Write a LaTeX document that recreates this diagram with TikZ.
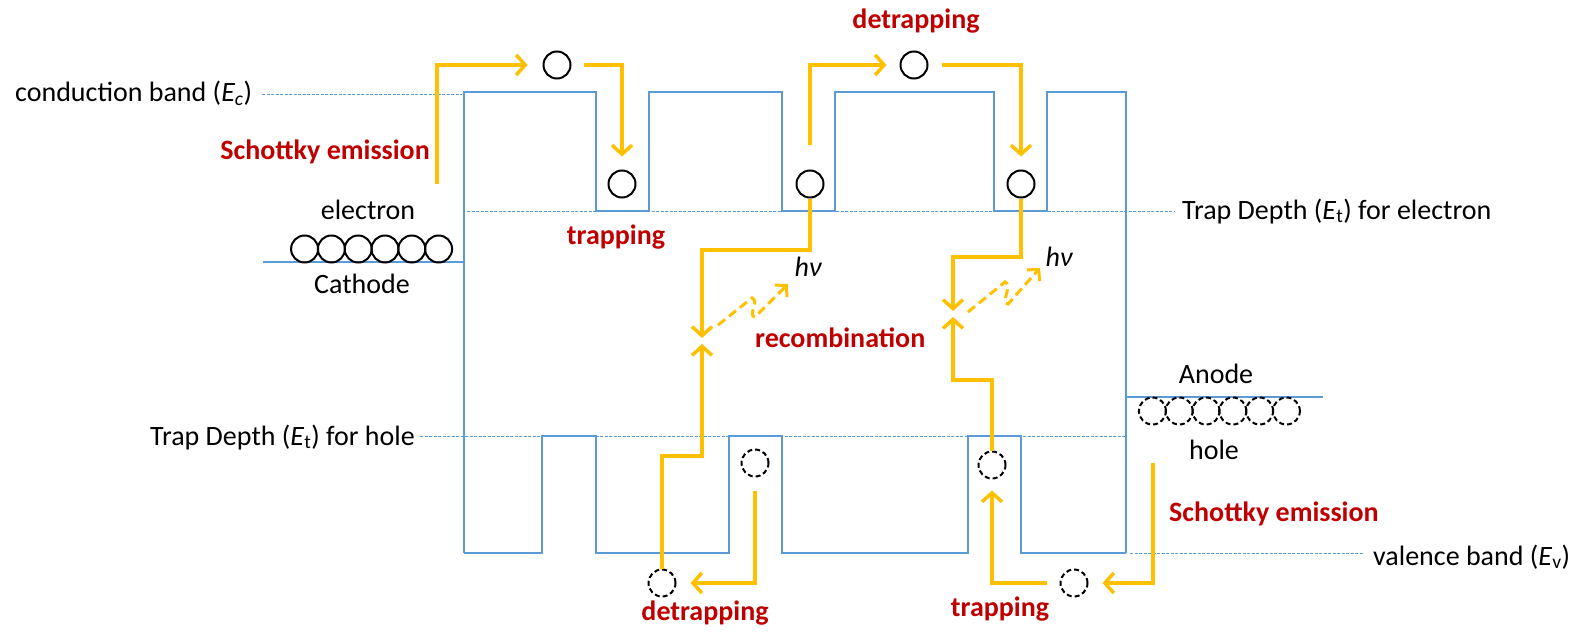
\documentclass[tikz,border=0pt]{standalone}
\usepackage{fontspec}
\setmainfont{Carlito}
\usetikzlibrary{arrows.meta,calc}
\definecolor{bandblue}{HTML}{5B9BD5}
\definecolor{flow}{HTML}{FFC000}
\definecolor{procred}{HTML}{C00000}

\begin{document}
\begin{tikzpicture}[x=1pt,y=-1pt,
  band/.style={draw=bandblue,line width=2pt},
  level/.style={draw=bandblue,line width=0.8pt,dash pattern=on 3pt off 1.5pt},
  flowline/.style={draw=flow,line width=3.5pt,-{Straight Barb[length=9pt,width=20pt]}},
  photon/.style={draw=flow,line width=3pt,dash pattern=on 9pt off 5pt,-{Straight Barb[length=8pt,width=17pt]}},
  ecirc/.style={circle,draw=black,line width=2pt,minimum size=27pt,inner sep=0pt},
  hcirc/.style={ecirc,dash pattern=on 5pt off 3pt},
  lbl/.style={inner sep=0pt,font=\fontsize{28}{32}\selectfont},
  proc/.style={inner sep=0pt,text=procred,font=\fontsize{28}{32}\selectfont\bfseries}
]
\useasboundingbox (0,0) rectangle (1572,634);

% energy levels (thin dashed)
\draw[level] (262,94) -- (462,94);
\draw[level] (467,211) -- (1175,211);
\draw[level] (420,436) -- (1126,436);
\draw[level] (1130,553) -- (1363,553);

% conduction band with electron traps
\draw[band] (464,553) -- (464,92) -- (596,92) -- (596,211) -- (649,211) -- (649,92)
  -- (782,92) -- (782,211) -- (835,211) -- (835,92) -- (994,92) -- (994,211)
  -- (1047,211) -- (1047,92) -- (1126,92) -- (1126,553);
% valence band with hole traps
\draw[band] (464,553) -- (542,553) -- (542,436) -- (596,436) -- (596,553) -- (729,553)
  -- (729,436) -- (782,436) -- (782,553) -- (968,553) -- (968,436) -- (1021,436)
  -- (1021,553) -- (1126,553);
% electrodes
\draw[band] (263,262) -- (464,262);
\draw[band] (1126,397) -- (1323,397);

% electrons at the cathode and holes at the anode
\foreach \i in {0,...,5} {
  \node[ecirc] (e\i) at ({304.6+26.8*\i},249) {};
  \node[hcirc] (a\i) at ({1152.4+26.8*\i},411) {};
}

% carriers
\node[ecirc] (c1) at (557,65) {};
\node[ecirc] (c2) at (914,65) {};
\node[ecirc] (t1) at (622,184) {};
\node[ecirc] (t2) at (810,184) {};
\node[ecirc] (t3) at (1021,184) {};
\node[hcirc] (ht1) at (755,463) {};
\node[hcirc] (ht2) at (992,465) {};
\node[hcirc] (h1) at (662,583) {};
\node[hcirc] (h2) at (1074,583) {};

% free ends and meeting points
\coordinate (sL) at (437,184);
\coordinate (sR) at (1153,463);
\coordinate (rL) at (702,341);
\coordinate (rR) at (953,314);

% electron transport
\draw[flowline,shorten >=15pt] (sL) |- (c1.west);
\draw[flowline,shorten <=12pt,shorten >=13pt] (c1.east) -| (t1.north);
\draw[flowline,shorten <=25pt,shorten >=13pt] (t2.north) |- (c2.west);
\draw[flowline,shorten <=13pt,shorten >=13pt] (c2.east) -| (t3.north);
\draw[flowline,shorten >=3pt] (t2.south) |- (702,250) -- (rL);
\draw[flowline,shorten >=3pt] (t3.south) |- (953,257) -- (rR);

% hole transport
\draw[flowline,shorten >=14pt] (sR) |- (h2.east);
\draw[flowline,shorten <=13pt,shorten >=11pt] (h2.west) -| (ht2.south);
\draw[flowline,shorten <=13pt,shorten >=14pt] (ht1.south) |- (h1.east);
\draw[flowline,shorten >=3pt] (h1.north) |- (702,456) -- (rL);
\draw[flowline,shorten >=3pt] (ht2.north) |- (953,380) -- (rR);

% emitted photons
\draw[photon] (718,325) -- (752,298) .. controls (760,301) and (747,316) .. (755,317) -- (788,284);
\draw[photon] (968,312) -- (1005,282) .. controls (1013,285) and (1000,303) .. (1008,304) -- (1040,268);

% labels
\node[lbl,anchor=base west] (lEc) at (15,102) {conduction band (\textit{E\textsubscript{c}})};
\node[lbl,anchor=base west] (lEte) at (1182,219) {Trap Depth (\textit{E}\textsubscript{t}) for electron};
\node[lbl,anchor=base west] (lEth) at (150,445) {Trap Depth (\textit{E}\textsubscript{t}) for hole};
\node[lbl,anchor=base west] (lEv) at (1373,565) {valence band (\textit{E}\textsubscript{v})};
\node[lbl,anchor=base] (lel) at (368,219) {electron};
\node[lbl,anchor=base] (lca) at (362,293) {Cathode};
\node[lbl,anchor=base] (lan) at (1216,383) {Anode};
\node[lbl,anchor=base] (lho) at (1214,459) {hole};
\node[lbl,anchor=base] (hvL) at (808,276) {\itshape hν};
\node[lbl,anchor=base] (hvR) at (1059,266) {\itshape hν};

\node[proc,anchor=base east] (pSL) at (430,159) {Schottky emission};
\node[proc,anchor=base west] (pSR) at (1169,521) {Schottky emission};
\node[proc,anchor=base] (pT1) at (616,244) {trapping};
\node[proc,anchor=base] (pD1) at (916,29) {detrapping};
\node[proc,anchor=base west] (pR) at (755,347) {recombination};
\node[proc,anchor=base] (pD2) at (705,620) {detrapping};
\node[proc,anchor=base] (pT2) at (1000,616) {trapping};
\end{tikzpicture}
\end{document}
